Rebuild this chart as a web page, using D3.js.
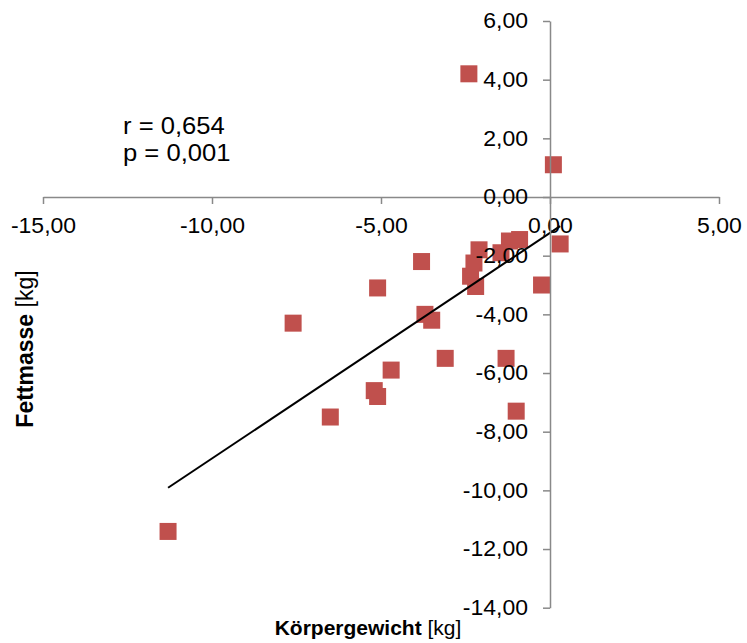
<!DOCTYPE html>
<html>
<head>
<meta charset="utf-8">
<script src="https://cdn.jsdelivr.net/npm/d3@7"></script>
<style>
  html, body { margin: 0; padding: 0; background: #fff; }
  svg { display: block; font-family: "Liberation Sans", Arial, sans-serif; }
</style>
</head>
<body>
<svg id="chart" width="747" height="643"></svg>
<script>
// Change in body weight (x) vs. change in fat mass (y), both in kg
const koerpergewicht = [0.3, -1.2, -0.9, -1.45, -2.1, -2.25, -2.35, -2.2, -3.8, -0.25, -3.7, -3.5,
                        -3.1, -1.3, -1.0, -5.1, -7.6, -4.7, -5.2, -5.1, -6.5, -2.4, 0.1, -11.3];
const fettmasse      = [-1.6, -1.5, -1.45, -1.9, -1.8, -2.25, -2.7, -3.05, -2.2, -3.0, -4.0, -4.2,
                        -5.5, -5.5, -7.3, -3.1, -4.3, -5.9, -6.6, -6.8, -7.5, 4.2, 1.1, -11.4];
const xTicks = [-15, -10, -5, 0, 5];
const yTicks = [-14, -12, -10, -8, -6, -4, -2, 0, 2, 4, 6];
const statLines = ["r = 0,654", "p = 0,001"];

const svg = d3.select("#chart");
const x = d3.scaleLinear().domain([-15, 5]).range([43, 719]);
const y = d3.scaleLinear().domain([-14, 6]).range([607.7, 21]);

const de = d3.formatLocale({ decimal: ",", thousands: ".", grouping: [3], currency: ["", " €"], minus: "-" });
const fmt = de.format(".2f");

const axisColor = "#898989";

// Widen glyphs horizontally while keeping each text's anchor point in place
function widen(sel, s) {
  sel.each(function () {
    const t = d3.select(this);
    const x0 = +t.attr("x") || 0;
    t.attr("x", x0 / s).attr("transform", `scale(${s},1)`);
  });
}

// Axes cross at the origin
const gx = svg.append("g").attr("transform", `translate(0,${y(0)})`)
  .call(d3.axisBottom(x).tickValues(xTicks).tickFormat(fmt).tickSize(7).tickSizeOuter(0).tickPadding(14));
const gy = svg.append("g").attr("transform", `translate(${x(0)},0)`)
  .call(d3.axisLeft(y).tickValues(yTicks).tickFormat(fmt).tickSize(7).tickSizeOuter(0).tickPadding(15));

[gx, gy].forEach(g => {
  g.select(".domain").attr("stroke", axisColor).attr("stroke-width", 1.5);
  g.selectAll(".tick line").attr("stroke", axisColor).attr("stroke-width", 1.5);
  const tt = g.selectAll(".tick text").attr("fill", "#000").attr("font-size", 21.5)
    .attr("font-family", "'Liberation Sans', Arial, sans-serif");
  widen(tt, 1.07);
});

// Data markers
const pts = koerpergewicht.map((v, i) => [v, fettmasse[i]]);
const size = 17;
svg.append("g").selectAll("rect").data(pts).join("rect")
  .attr("x", d => x(d[0]) - size / 2)
  .attr("y", d => y(d[1]) - size / 2)
  .attr("width", size).attr("height", size)
  .attr("fill", "#C0504D");

// Least-squares trend line over the data range
const mx = d3.mean(koerpergewicht), my = d3.mean(fettmasse);
const sxy = d3.sum(pts, d => (d[0] - mx) * (d[1] - my));
const sxx = d3.sum(pts, d => (d[0] - mx) ** 2);
const slope = sxy / sxx, intercept = my - slope * mx;
const [xmin, xmax] = d3.extent(koerpergewicht);
svg.append("line")
  .attr("x1", x(xmin)).attr("y1", y(intercept + slope * xmin))
  .attr("x2", x(xmax)).attr("y2", y(intercept + slope * xmax))
  .attr("stroke", "#000").attr("stroke-width", 2);

// Tick labels stay above the markers
gx.raise(); gy.raise();
gx.select(".domain").lower(); gy.select(".domain").lower();

// Statistics
const st = svg.append("g").selectAll("text").data(statLines).join("text")
  .attr("x", 123).attr("y", (d, i) => 134 + i * 27)
  .attr("font-size", 23.5).attr("fill", "#000").text(d => d);
widen(st, 1.09);

// Axis titles
const xt = svg.append("text").attr("x", 368).attr("y", 635).attr("text-anchor", "middle")
  .attr("font-size", 21).attr("fill", "#000");
xt.append("tspan").attr("font-weight", "bold").text("Körpergewicht");
xt.append("tspan").text(" [kg]");

const yt = svg.append("text").attr("transform", "translate(33,349) rotate(-90)").attr("text-anchor", "middle")
  .attr("font-size", 23).attr("fill", "#000");
yt.append("tspan").attr("font-weight", "bold").text("Fettmasse");
yt.append("tspan").text(" [kg]");
</script>
</body>
</html>
